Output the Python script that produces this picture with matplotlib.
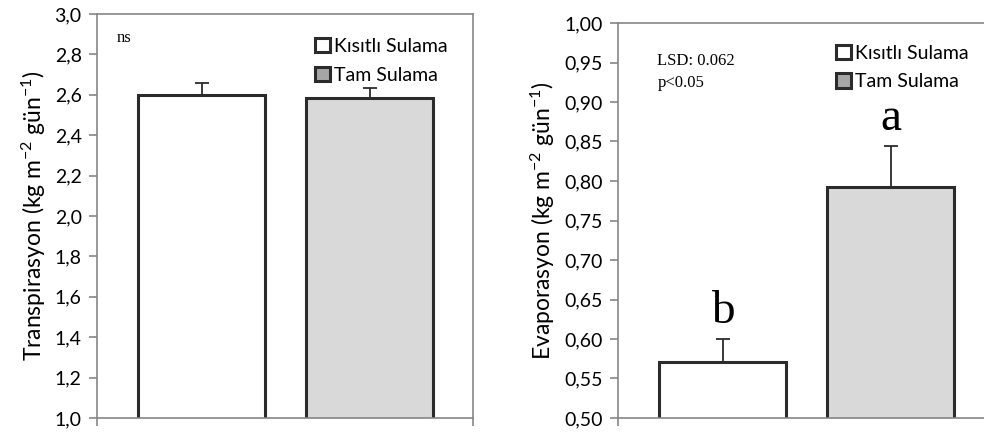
import matplotlib
matplotlib.use("Agg")
import matplotlib.pyplot as plt
from matplotlib.patches import Patch

# data
groups = ["Kısıtlı Sulama", "Tam Sulama"]
transp = [2.60, 2.583]
transp_err = [0.06, 0.052]
evap = [0.571, 0.792]
evap_err = [0.029, 0.052]
evap_letters = ["b", "a"]

bar_fill = ["white", "#d9d9d9"]
legend_fill = ["white", "#a6a6a6"]
edge = "#2b2b2b"
spine_c = "#868686"
pos = [0.279, 0.725]
width = 0.338

plt.rcParams["font.family"] = ["Lato", "DejaVu Sans"]

fig = plt.figure(figsize=(9.84, 4.32), dpi=100)
ax1 = fig.add_axes([97/984, 1-418/432, 376/984, 404/432])
ax2 = fig.add_axes([618/984, 1-418/432, 376/984, 395/432])


def style(ax, ylim, step, fmt):
    ax.set_xlim(0, 1)
    ax.set_ylim(*ylim)
    n = int(round((ylim[1] - ylim[0]) / step))
    ticks = [ylim[0] + i*step for i in range(n+1)]
    ax.set_yticks(ticks)
    ax.set_yticklabels([fmt.format(t).replace(".", ",") for t in ticks])
    ax.set_xticks([0, 1])
    ax.set_xticklabels(["", ""])
    for s in ax.spines.values():
        s.set_color(spine_c)
        s.set_linewidth(1.2)
    ax.tick_params(axis="both", direction="out", color=spine_c, length=6,
                   width=1.2, labelsize=14, pad=5)


def draw(ax, vals, errs):
    for i in range(2):
        ax.bar(pos[i], vals[i], width=width, bottom=0, color=bar_fill[i],
               edgecolor=edge, linewidth=2.2, zorder=2)
        ax.errorbar(pos[i], vals[i], yerr=[[0], [errs[i]]], fmt="none",
                    ecolor=edge, elinewidth=1.3, capsize=5, capthick=1.3, zorder=3)


def legend(ax, anchor):
    handles = [Patch(facecolor=legend_fill[i], edgecolor=edge, linewidth=2.2)
               for i in range(2)]
    ax.legend(handles, groups, loc="upper left", bbox_to_anchor=anchor,
              frameon=False, fontsize=14, handlelength=0.75, handleheight=0.75,
              handletextpad=0.2, labelspacing=0.6, borderaxespad=0)


ylab = " (kg m$\\mathregular{^{-2}}$ gün$\\mathregular{^{-1}}$)"

style(ax1, (1.0, 3.0), 0.2, "{:.1f}")
draw(ax1, transp, transp_err)
ax1.set_ylabel("Transpirasyon" + ylab, fontsize=16.5, labelpad=5)
ax1.text(0.053, 0.94, "ns", transform=ax1.transAxes, family="Liberation Serif",
         fontsize=12, va="center")
legend(ax1, (0.56, 0.96))

style(ax2, (0.50, 1.00), 0.05, "{:.2f}")
ax2.spines["right"].set_visible(False)
draw(ax2, evap, evap_err)
ax2.set_ylabel("Evaporasyon" + ylab, fontsize=16.5, labelpad=5)
for i in range(2):
    ax2.text(pos[i], evap[i] + evap_err[i] + 0.008, evap_letters[i],
             family="Liberation Serif", fontsize=34, ha="center", va="bottom")
ax2.text(0.105, 0.905, "LSD: 0.062", transform=ax2.transAxes,
         family="Liberation Serif", fontsize=12, va="center")
ax2.text(0.105, 0.847, "p<0.05", transform=ax2.transAxes,
         family="Liberation Serif", fontsize=12, va="center")
legend(ax2, (0.56, 0.965))

fig.savefig("out.png", dpi=100)
